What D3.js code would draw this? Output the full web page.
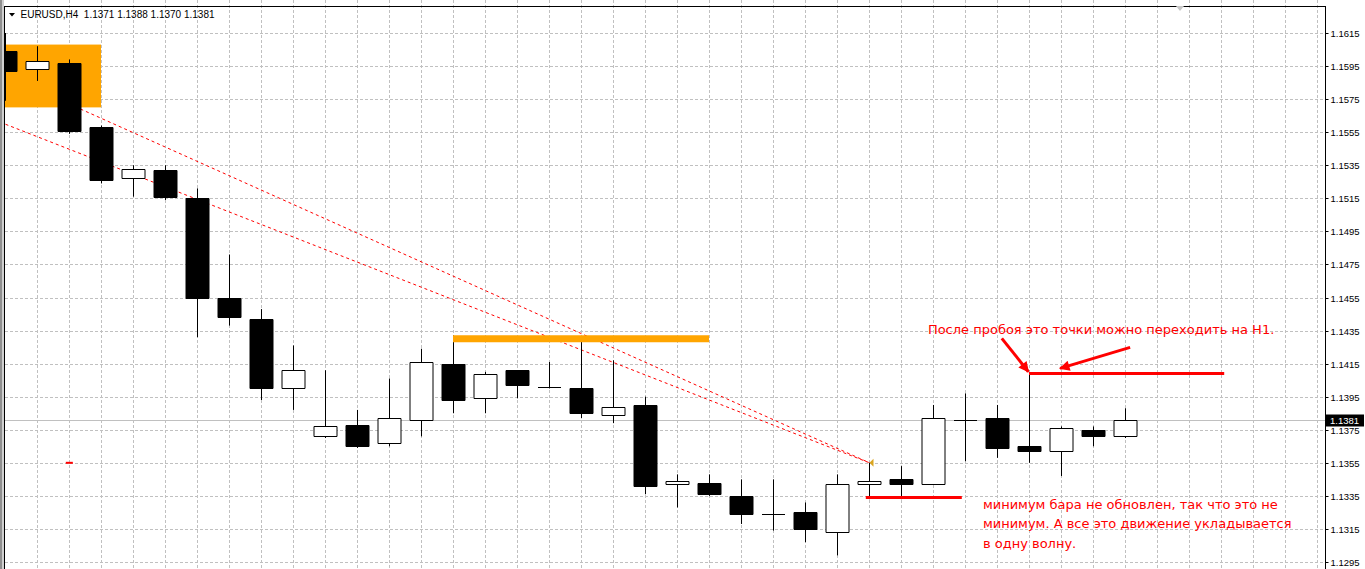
<!DOCTYPE html>
<html lang="ru">
<head>
<meta charset="utf-8">
<title>EURUSD,H4</title>
<script src="https://cdn.jsdelivr.net/npm/d3@7/dist/d3.min.js"></script>
<style>
  body { margin: 0; background: #fff; overflow: hidden; }
  svg { display: block; }
  .axis text { font-family: "Liberation Sans", Arial, sans-serif; font-size: 9.5px; fill: #000; }
  .head { font-family: "Liberation Sans", Arial, sans-serif; font-size: 10px; fill: #000; }
  .price { font-family: "Liberation Sans", Arial, sans-serif; font-size: 9.5px; fill: #fff; }
  .note { font-family: "DejaVu Sans", sans-serif; font-size: 13px; fill: #ff0000; }
</style>
</head>
<body>
<script>
// ---- data (bar index = position from the left) ----
const symbol = "EURUSD,H4";
const opens  = [1.1604,1.1593,1.1597,1.1558,1.1527,1.1532,1.1515,1.1455,1.1442,1.1400,
                1.1371,1.1378,1.1367,1.1381,1.1415,1.1394,1.1411,1.1401,1.1400,1.1384,
                1.1390,1.1342,1.1343,1.1335,1.1324,1.1325,1.1313,1.1342,1.1345,1.1342,
                1.1381,1.1382,1.1365,1.1362,1.1375,1.1371];
const highs  = [1.1615,1.1607,1.1599,1.1559,1.1535,1.1535,1.1521,1.1481,1.1448,1.1426,
                1.1411,1.1387,1.1406,1.1424,1.1432,1.1410,1.1411,1.1416,1.1430,1.1417,
                1.1395,1.1348,1.1348,1.1345,1.1345,1.1331,1.1348,1.1355,1.1353,1.1390,
                1.1397,1.1390,1.1409,1.1377,1.1377,1.1388];
const lows   = [1.1574,1.1586,1.1554,1.1524,1.1516,1.1514,1.1431,1.1438,1.1393,1.1387,
                1.1370,1.1364,1.1365,1.1371,1.1385,1.1385,1.1394,1.1400,1.1382,1.1379,
                1.1336,1.1328,1.1335,1.1318,1.1314,1.1307,1.1299,1.1333,1.1333,1.1342,
                1.1356,1.1358,1.1355,1.1347,1.1365,1.1370];
const closes = [1.1592,1.1598,1.1556,1.1526,1.1533,1.1516,1.1455,1.1443,1.1400,1.1411,
                1.1377,1.1365,1.1382,1.1416,1.1393,1.1409,1.1402,1.1401,1.1385,1.1389,
                1.1341,1.1344,1.1336,1.1324,1.1324,1.1315,1.1342,1.1344,1.1342,1.1382,
                1.1381,1.1364,1.1362,1.1376,1.1371,1.1381];
const priceTicks = [1.1615,1.1595,1.1575,1.1555,1.1535,1.1515,1.1495,1.1475,1.1455,
                    1.1435,1.1415,1.1395,1.1375,1.1355,1.1335,1.1315,1.1295];
const lastPrice = 1.1381;

// chart objects, in (bar index, price)
const zoneBox = [0, 3, 1.1608, 1.1570];
const levelsFrom  = [14, 32, 26.9, 1.9];
const levelsTo    = [22, 38.1, 29.9, 2.12];
const levelsPrice = [1.1430, 1.1409, 1.1334, 1.1355];
const trendFrom = [[0, 1.15598], [2, 1.1572]];
const trendTo   = [[27, 1.1355], [27, 1.1355]];
const arrowFrom = [[31.15, 1.14303], [35.16, 1.14248]];
const arrowTo   = [[31.98, 1.14101], [32.97, 1.14121]];
const note1 = "После пробоя это точки можно переходить на Н1.";
const note1At = [28.84, 1.14329];
const note2 = ["минимум бара не обновлен, так что это не",
               "минимум. А все это движение укладывается",
               "в одну волну."];
const note2At = [30.56, 1.13273];

// ---- layout ----
const W = 1365, H = 569;
const plotLeft = 5, plotRight = 1325, plotTop = 6;
const barPx = 32;

const svg = d3.select("body").append("svg").attr("width", W).attr("height", H);

const x = d3.scaleLinear().domain([0, 1]).range([plotLeft, plotLeft + barPx]);
const y = d3.scaleLinear().domain([1.1295, 1.1615]).range([562, 33]);
const px = v => Math.round(v) + 0.5;

// window frame on the left
svg.append("rect").attr("x", 0).attr("y", 0).attr("width", 2).attr("height", H).attr("fill", "#909090");
svg.append("rect").attr("x", 2).attr("y", 0).attr("width", 2).attr("height", H).attr("fill", "#d0d0d0");

// grid
const grid = svg.append("g").attr("stroke", "#c0c0c0").attr("stroke-dasharray", "3,2");
grid.selectAll("line.h").data(priceTicks).join("line").attr("class", "h")
  .attr("x1", plotLeft).attr("x2", plotRight).attr("y1", d => px(y(d))).attr("y2", d => px(y(d)));
grid.selectAll("line.v").data(d3.range(1, 42)).join("line").attr("class", "v")
  .attr("x1", d => px(x(d))).attr("x2", d => px(x(d))).attr("y1", 0).attr("y2", H);

const plot = svg.append("g");
plot.append("clipPath").attr("id", "clip").append("rect")
  .attr("x", plotLeft).attr("y", plotTop).attr("width", plotRight - plotLeft).attr("height", H - plotTop);
const g = plot.append("g").attr("clip-path", "url(#clip)");

// bid line
g.append("line").attr("x1", plotLeft).attr("x2", plotRight)
  .attr("y1", px(y(lastPrice))).attr("y2", px(y(lastPrice)))
  .attr("stroke", "#c0c0c0");

// trend lines (dotted red)
g.selectAll("line.trend").data(trendFrom).join("line").attr("class", "trend")
  .attr("x1", d => x(d[0]) + 0.5).attr("y1", d => y(d[1]))
  .attr("x2", (d, i) => x(trendTo[i][0]) + 0.5).attr("y2", (d, i) => y(trendTo[i][1]))
  .attr("stroke", "#ff0000").attr("stroke-width", 1).attr("stroke-dasharray", "3,3");

// orange zone
g.append("rect")
  .attr("x", x(zoneBox[0])).attr("width", x(zoneBox[1]) - x(zoneBox[0]))
  .attr("y", y(zoneBox[2])).attr("height", y(zoneBox[3]) - y(zoneBox[2]))
  .attr("fill", "#ffa500");

// candles
const bars = opens.map((o, i) => ({i, o, h: highs[i], l: lows[i], c: closes[i]}));
const cg = g.append("g");
cg.selectAll("line.wick").data(bars).join("line").attr("class", "wick")
  .attr("x1", d => x(d.i) + 0.5).attr("x2", d => x(d.i) + 0.5)
  .attr("y1", d => y(d.h)).attr("y2", d => y(d.l))
  .attr("stroke", "#000");
cg.selectAll("path.body").data(bars).join("path").attr("class", "body")
  .attr("d", d => {
    const x0 = x(d.i) - 11, x1 = x(d.i) + 12;
    const y0 = Math.round(y(Math.max(d.o, d.c))) + 0.5;
    const y1 = Math.round(y(Math.min(d.o, d.c))) + 0.5;
    return `M${x0},${y0}H${x1}V${y1}H${x0}Z`;
  })
  .attr("fill", d => d.c < d.o ? "#000" : "#fff")
  .attr("stroke", "#000");

// horizontal levels
g.selectAll("line.level").data(levelsPrice).join("line").attr("class", "level")
  .attr("x1", (d, i) => x(levelsFrom[i])).attr("x2", (d, i) => x(levelsTo[i]))
  .attr("y1", d => y(d)).attr("y2", d => y(d))
  .attr("stroke", (d, i) => i === 0 ? "#ffa500" : "#ff0000")
  .attr("stroke-width", (d, i) => i === 0 ? 7 : (i === 3 ? 2 : 3));

// little price marker at the end of trend lines
const tx = x(trendTo[0][0]) + 0.5, ty = y(trendTo[0][1]);
g.append("path").attr("d", `M${tx},${ty}L${tx + 4},${ty - 4}L${tx + 4},${ty + 4}Z`).attr("fill", "#daa520");

// arrows
svg.append("defs").append("marker").attr("id", "ah")
  .attr("viewBox", "0 0 10 10").attr("refX", 9).attr("refY", 5)
  .attr("markerWidth", 4.5).attr("markerHeight", 3.5).attr("orient", "auto")
  .attr("markerUnits", "strokeWidth")
  .append("path").attr("d", "M0,0L10,5L0,10Z").attr("fill", "#ff0000");
g.selectAll("line.arrow").data(arrowFrom).join("line").attr("class", "arrow")
  .attr("x1", d => x(d[0])).attr("y1", d => y(d[1]))
  .attr("x2", (d, i) => x(arrowTo[i][0])).attr("y2", (d, i) => y(arrowTo[i][1]))
  .attr("stroke", "#ff0000").attr("stroke-width", 3)
  .attr("marker-end", "url(#ah)");

// notes
g.append("text").attr("class", "note").attr("x", x(note1At[0])).attr("y", y(note1At[1])).text(note1);
g.selectAll("text.n2").data(note2).join("text").attr("class", "note n2")
  .attr("x", x(note2At[0])).attr("y", (d, i) => y(note2At[1]) + i * 19.5).text(d => d);

// frame
svg.append("line").attr("x1", 4).attr("x2", plotRight).attr("y1", plotTop + 0.5).attr("y2", plotTop + 0.5).attr("stroke", "#000");
svg.append("line").attr("x1", 4.5).attr("x2", 4.5).attr("y1", plotTop).attr("y2", H).attr("stroke", "#000");
svg.append("line").attr("x1", plotRight + 0.5).attr("x2", plotRight + 0.5).attr("y1", plotTop).attr("y2", H).attr("stroke", "#000");

// price axis
const axis = svg.append("g").attr("class", "axis").attr("transform", `translate(${plotRight + 0.5},0)`)
  .call(d3.axisRight(y).tickValues(priceTicks).tickSize(3).tickPadding(2).tickFormat(d3.format(".4f")));
axis.select(".domain").remove();
axis.selectAll(".tick").attr("transform", d => `translate(0,${px(y(d))})`);

// last price box
const lp = svg.append("g").attr("transform", `translate(${plotRight + 1},${px(y(lastPrice))})`);
lp.append("rect").attr("x", 0).attr("y", -6).attr("width", 38).attr("height", 12).attr("fill", "#000");
lp.append("text").attr("class", "price").attr("x", 4).attr("y", 3.5)
  .text(d3.format(".4f")(lastPrice));

// header
svg.append("path").attr("d", "M9,13L15,13L12,16.5Z").attr("fill", "#000");
const last = bars[bars.length - 1];
svg.append("text").attr("class", "head").attr("x", 20.5).attr("y", 18)
  .style("white-space", "pre")
  .text(`${symbol}  ${[last.o, last.h, last.l, last.c].map(d3.format(".4f")).join(" ")}`);

// chart shift marker
svg.append("path").attr("d", "M1176,6L1184,6L1180,11Z").attr("fill", "#c8c8c8");
</script>
</body>
</html>
